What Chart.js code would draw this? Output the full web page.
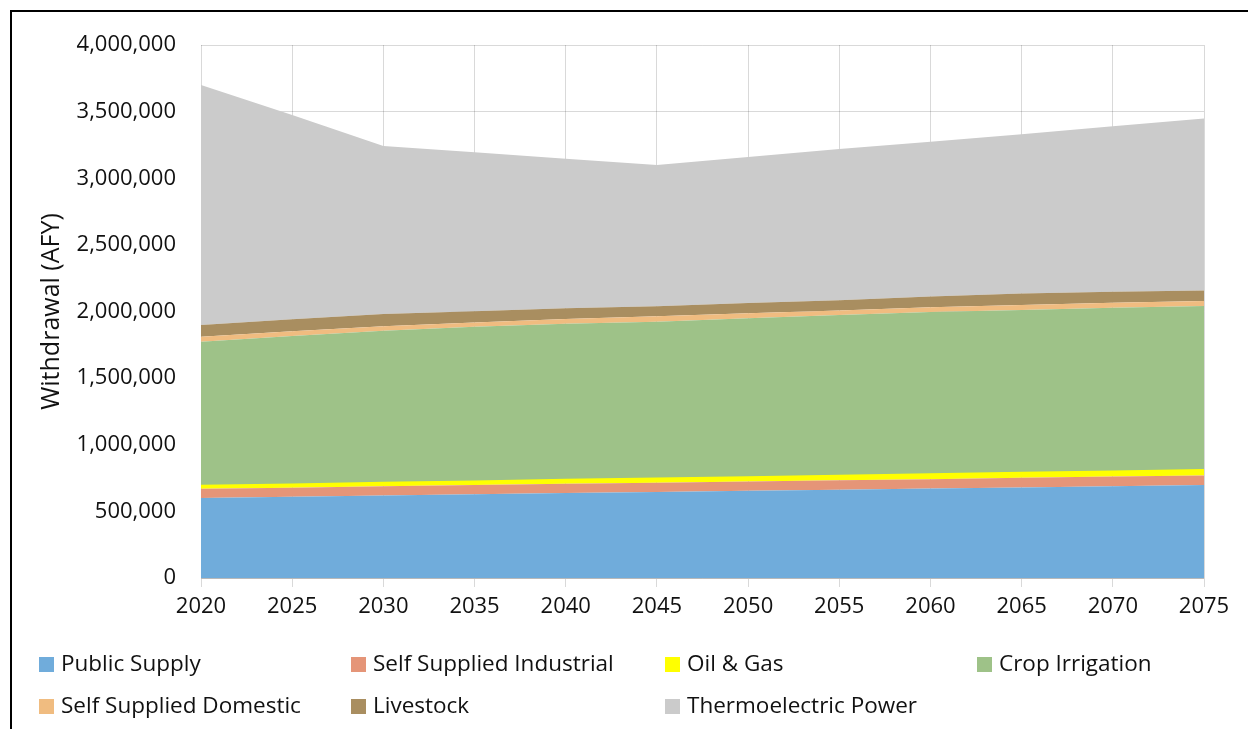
<!DOCTYPE html>
<html>
<head>
<meta charset="utf-8">
<script src="https://cdn.jsdelivr.net/npm/chart.js@4/dist/chart.umd.min.js"></script>
<style>
  body { margin: 0; background: #fff; font-family: 'Open Sans', sans-serif; }
  #frame { position: absolute; left: 10px; top: 10px; width: 1400px; height: 900px;
           border-left: 2px solid #000; border-top: 2px solid #000; }
  #wrap { position: absolute; left: 0; top: 0; width: 1248px; height: 729px; }
  .leg { position: absolute; font-size: 22.5px; color: #111; white-space: nowrap; line-height: 26px; }
  .leg span { display: inline-block; width: 15px; height: 15px; margin-right: 7px; vertical-align: -1px; }
</style>
</head>
<body>
<div id="frame"></div>
<div id="wrap"><canvas id="waterChart" width="1248" height="729"></canvas></div>
<div id="legend"></div>
<script>
// withdrawal by use type, acre-feet per year
const years = ['2020', '2025', '2030', '2035', '2040', '2045', '2050', '2055', '2060', '2065', '2070', '2075'];
const publicSupply = [600000, 610000, 620000, 628000, 637000, 645000, 654000, 662000, 671000, 680000, 689000, 698000];
const selfIndustrial = [70000, 68000, 69000, 69000, 70000, 70000, 70000, 71000, 71000, 72000, 72000, 72000];
const oilGas = [22000, 24000, 26000, 28000, 30000, 31000, 33000, 34000, 36000, 37000, 39000, 40000];
const cropIrrigation = [1081000, 1114000, 1141000, 1161000, 1171000, 1178000, 1192000, 1207000, 1218000, 1222000, 1229000, 1231000];
const selfDomestic = [38000, 35000, 33000, 32000, 36000, 40000, 38000, 34000, 36000, 38000, 37000, 38000];
const livestock = [88000, 90000, 92000, 84000, 80000, 76000, 76000, 76000, 80000, 86000, 83000, 78000];
const thermoelectric = [1801000, 1534000, 1261000, 1194000, 1123000, 1059000, 1096000, 1135000, 1161000, 1195000, 1241000, 1292000];
const yTicks = [0, 500000, 1000000, 1500000, 2000000, 2500000, 3000000, 3500000, 4000000];

const FONT = 'Open Sans';
const gridColor = 'rgba(0,0,0,0.15)';

function area(label, data, color, idx) {
    return {
        label: label,
        data: data,
        backgroundColor: color,
        borderColor: color,
        borderWidth: label === 'Oil & Gas' ? 2 : 0,
        fill: idx === 0 ? 'origin' : '-1',
        pointRadius: 0,
        tension: 0
    };
}

const series = [
    ['Public Supply', publicSupply, '#70acdb'],
    ['Self Supplied Industrial', selfIndustrial, '#e59578'],
    ['Oil & Gas', oilGas, '#ffff00'],
    ['Crop Irrigation', cropIrrigation, '#9ec288'],
    ['Self Supplied Domestic', selfDomestic, '#f0bc80'],
    ['Livestock', livestock, '#a98e60'],
    ['Thermoelectric Power', thermoelectric, '#cbcbcb']
];

const ctx = document.getElementById('waterChart').getContext('2d');
const chart = new Chart(ctx, {
    type: 'line',
    data: {
        labels: years,
        datasets: series.map((s, i) => area(s[0], s[1], s[2], i))
    },
    options: {
        responsive: false,
        animation: false,
        layout: { padding: { left: 0, right: 44, top: 45, bottom: 106 } },
        plugins: { legend: { display: false }, tooltip: { enabled: false } },
        scales: {
            x: {
                z: 1,
                grid: { color: gridColor, tickLength: 9, drawTicks: true },
                border: { color: gridColor },
                ticks: { color: '#111', font: { family: FONT, size: 22 }, padding: 7, maxRotation: 0, autoSkip: false },
                afterFit: (scale) => { scale.height = 45; }
            },
            y: {
                z: 1,
                stacked: true,
                min: 0,
                max: 4000000,
                afterBuildTicks: (scale) => { scale.ticks = yTicks.map(v => ({ value: v })); },
                grid: { color: gridColor, drawTicks: false },
                border: { display: false },
                ticks: {
                    color: '#111',
                    font: { family: FONT, size: 22 },
                    padding: 25,
                    callback: (v) => Number(v).toLocaleString('en-US')
                },
                title: {
                    display: true,
                    text: 'Withdrawal (AFY)',
                    color: '#111',
                    font: { family: FONT, size: 25 },
                    padding: { top: 37, bottom: 0 }
                },
                afterFit: (scale) => { scale.width = 201; }
            }
        }
    }
});

// legend in two rows of four columns, like the original
const colX = [39, 351, 665, 977];
const rowY = [650, 692];
const legend = document.getElementById('legend');
chart.data.datasets.forEach((ds, i) => {
    const item = document.createElement('div');
    item.className = 'leg';
    item.style.left = colX[i % 4] + 'px';
    item.style.top = rowY[Math.floor(i / 4)] + 'px';
    item.innerHTML = '<span style="background:' + ds.backgroundColor + '"></span>' + ds.label;
    legend.appendChild(item);
});
</script>
</body>
</html>
